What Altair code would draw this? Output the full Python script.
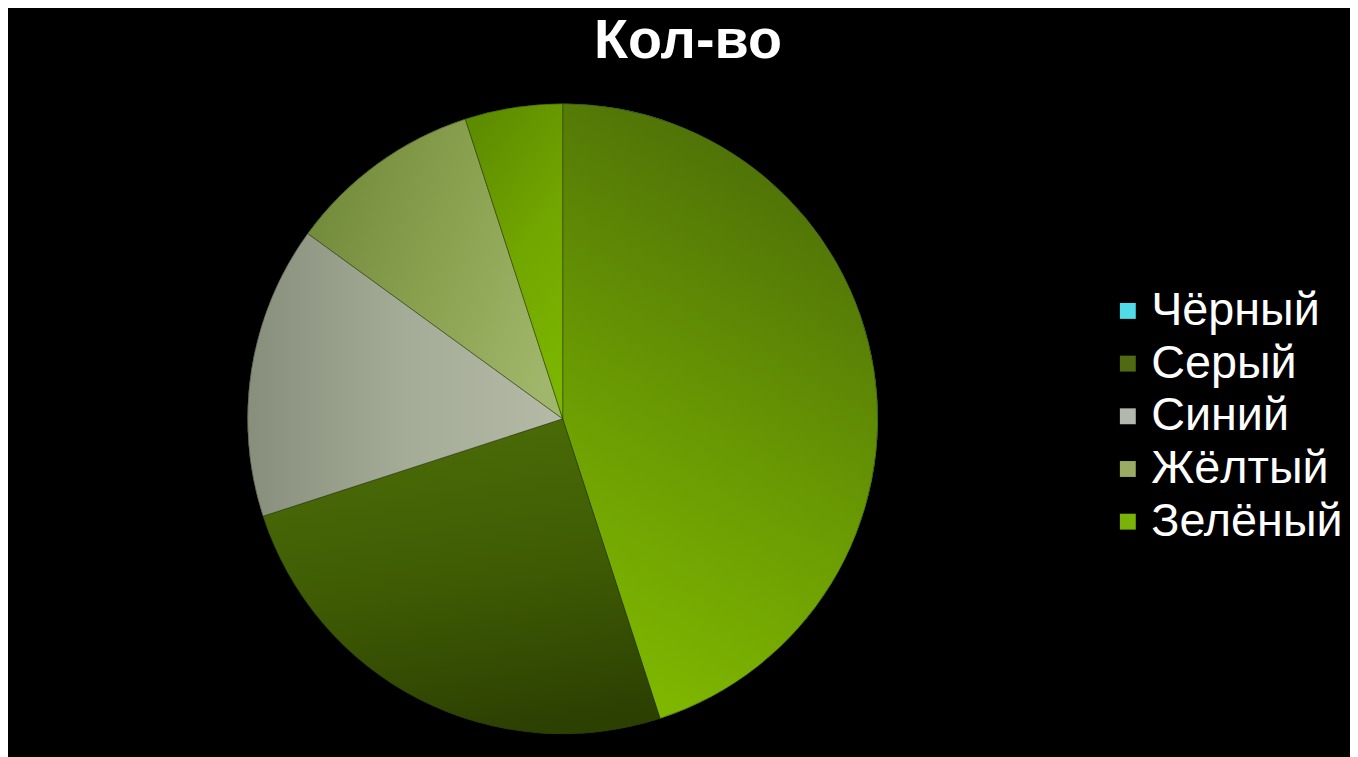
import altair as alt
import pandas as pd

categories = ["Чёрный", "Серый", "Синий", "Жёлтый", "Зелёный"]
values = [45, 25, 15, 10, 5]
legend_colors = ["#4fdce6", "#4f6a12", "#b3b8ae", "#9aab64", "#7bb20a"]

# gradient fills of the slices as they appear in the picture
slice_gradients = {
    "Чёрный": dict(x1=0.6, y1=0, x2=0.3, y2=1, stops=[("#4c6c08", 0), ("#6a9a03", 0.55), ("#80b800", 1)]),
    "Серый": dict(x1=0.4, y1=0, x2=0.6, y2=1, stops=[("#4b6c08", 0), ("#3f5c04", 0.5), ("#2c4002", 1)]),
    "Синий": dict(x1=0, y1=0.5, x2=1, y2=0.5, stops=[("#878f7c", 0), ("#a4ab97", 0.5), ("#b4baa6", 1)]),
    "Жёлтый": dict(x1=0, y1=0.3, x2=1, y2=0.7, stops=[("#718a3a", 0), ("#8aa150", 0.5), ("#a0b66a", 1)]),
    "Зелёный": dict(x1=0.3, y1=0, x2=0.7, y2=1, stops=[("#5e8c00", 0), ("#72a600", 0.5), ("#7cb600", 1)]),
}

df = pd.DataFrame({"cat": categories, "value": values, "idx": list(range(len(categories)))})

CX, CY, R = 558, 321, 317

base = (
    alt.Chart(df)
    .transform_window(cum="sum(value)", sort=[alt.SortField("idx")], frame=[None, 0])
    .transform_joinaggregate(total="sum(value)")
    .transform_calculate(t0="(datum.cum - datum.value) / datum.total", t1="datum.cum / datum.total")
)

theta = alt.Theta("t0:Q", scale=alt.Scale(domain=[0, 1]))
theta2 = alt.Theta2("t1:Q")

legend_layer = base.mark_arc(radius=R).encode(
    theta=theta,
    theta2=theta2,
    x=alt.value(CX),
    y=alt.value(CY),
    color=alt.Color(
        "cat:N",
        scale=alt.Scale(domain=categories, range=legend_colors),
        sort=categories,
        legend=alt.Legend(
            title=None,
            orient="none",
            legendX=1103,
            legendY=189,
            symbolType="square",
            symbolSize=256,
            symbolStrokeWidth=0,
            symbolOpacity=1,
            labelFontSize=47,
            labelFont="Liberation Sans",
            labelColor="white",
            labelOffset=0,
            labelLimit=400,
            rowPadding=5,
            padding=0,
        ),
    ),
)

overlays = []
for c in categories:
    g = slice_gradients[c]
    grad = {
        "gradient": "linear",
        "x1": g["x1"], "y1": g["y1"], "x2": g["x2"], "y2": g["y2"],
        "stops": [{"offset": o, "color": col} for col, o in g["stops"]],
    }
    overlays.append(
        base.transform_filter(alt.datum.cat == c)
        .mark_arc(radius=R, fill=grad, stroke="#1e2c06", strokeWidth=0.8, strokeOpacity=0.6)
        .encode(theta=theta, theta2=theta2, x=alt.value(CX), y=alt.value(CY))
    )

chart = (
    alt.layer(legend_layer, *overlays)
    .properties(
        width=1350,
        height=659,
        padding={"left": 0, "top": 90, "right": 0, "bottom": 0},
        autosize=alt.AutoSizeParams(type="none"),
        background="black",
        title=alt.TitleParams(
            "Кол-во",
            fontSize=56,
            font="Liberation Sans",
            fontWeight="bold",
            color="white",
            anchor="middle",
            baseline="alphabetic",
            offset=36,
            dy=50,
            dx=9,
        ),
    )
    .configure_view(stroke=None)
)

chart.save("out.html", embed_options={"renderer": "svg", "actions": False})
